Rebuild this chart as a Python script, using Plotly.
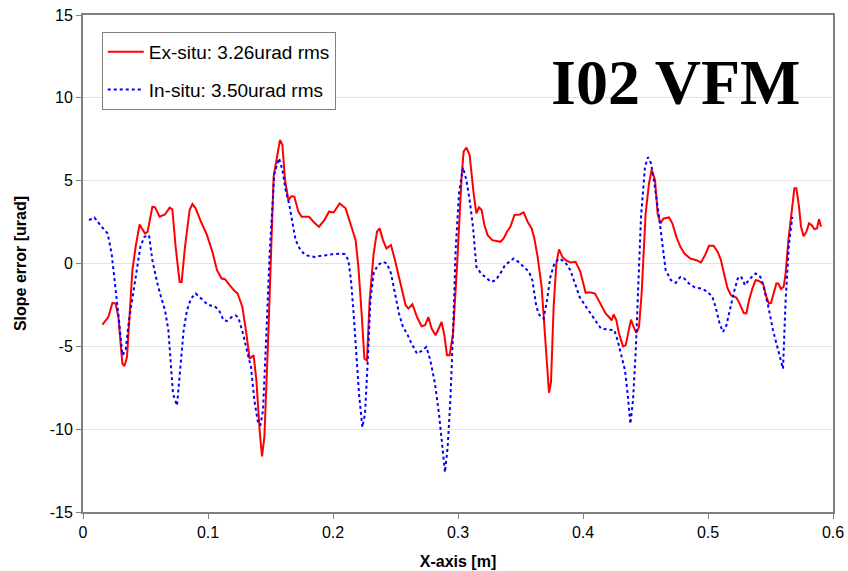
import plotly.graph_objects as go

# Ex-situ slope error (red solid)
ex_x = [0.0155, 0.0203, 0.0235, 0.0261, 0.0283, 0.0315, 0.0331, 0.0352, 0.0395, 0.0421,
        0.0453, 0.0496, 0.0517, 0.0555, 0.0576, 0.0613, 0.0656, 0.0693, 0.0715, 0.0741,
        0.0773, 0.0789, 0.0816, 0.0853, 0.0875, 0.0901, 0.0944, 0.0992, 0.1035, 0.1072,
        0.1109, 0.1136, 0.1173, 0.1211, 0.1237, 0.1275, 0.1307, 0.1333, 0.1365, 0.1387,
        0.1413, 0.1432, 0.1451, 0.1483, 0.1525, 0.1555, 0.1576, 0.1595, 0.1616, 0.1643,
        0.1669, 0.1691, 0.1723, 0.1749, 0.1808, 0.1851, 0.1888, 0.1931, 0.1968, 0.2005,
        0.2053, 0.2101, 0.2133, 0.2160, 0.2181, 0.2203, 0.2229, 0.2251, 0.2272, 0.2293,
        0.2325, 0.2352, 0.2373, 0.2400, 0.2427, 0.2464, 0.2496, 0.2539, 0.2581, 0.2603,
        0.2635, 0.2672, 0.2709, 0.2736, 0.2763, 0.2789, 0.2821, 0.2869, 0.2891, 0.2912,
        0.2933, 0.2960, 0.2992, 0.3029, 0.3045, 0.3067, 0.3093, 0.3125, 0.3147, 0.3168,
        0.3189, 0.3211, 0.3237, 0.3275, 0.3339, 0.3365, 0.3392, 0.3419, 0.3451, 0.3493,
        0.3525, 0.3557, 0.3589, 0.3611, 0.3637, 0.3669, 0.3696, 0.3712, 0.3728, 0.3744,
        0.3765, 0.3787, 0.3808, 0.3835, 0.3861, 0.3899, 0.3941, 0.3979, 0.4021, 0.4053,
        0.4096, 0.4117, 0.4149, 0.4181, 0.4208, 0.4229, 0.4245, 0.4267, 0.4288, 0.4320,
        0.4341, 0.4363, 0.4384, 0.4405, 0.4427, 0.4448, 0.4469, 0.4501, 0.4528, 0.4549,
        0.4576, 0.4597, 0.4619, 0.4645, 0.4688, 0.4715, 0.4747, 0.4779, 0.4811, 0.4859,
        0.4907, 0.4944, 0.4976, 0.5008, 0.5045, 0.5077, 0.5104, 0.5131, 0.5157, 0.5184,
        0.5227, 0.5253, 0.5285, 0.5307, 0.5328, 0.5355, 0.5381, 0.5408, 0.5440, 0.5467,
        0.5488, 0.5504, 0.5525, 0.5547, 0.5563, 0.5584, 0.5605, 0.5621, 0.5643, 0.5669,
        0.5691, 0.5707, 0.5728, 0.5744, 0.5765, 0.5787, 0.5808, 0.5829, 0.5851, 0.5872,
        0.5888, 0.5904]
ex_y = [-3.69, -3.23, -2.38, -2.42, -3.23, -6.05, -6.19, -5.65, -0.40, 1.01,
        2.36, 1.81, 1.92, 3.43, 3.39, 2.82, 2.96, 3.37, 3.27, 1.01,
        -1.11, -1.11, 1.01, 3.23, 3.59, 3.33, 2.52, 1.71, 0.71, -0.40,
        -0.91, -0.95, -1.31, -1.65, -1.81, -2.62, -4.23, -5.75, -5.54, -7.06,
        -10.08, -11.65, -10.48, -4.23, 5.24, 6.65, 7.46, 7.16, 5.04, 3.83,
        4.07, 4.03, 3.13, 2.82, 2.82, 2.46, 2.22, 2.62, 3.13, 3.08,
        3.63, 3.33, 2.62, 1.92, 1.41, -0.20, -3.02, -5.75, -5.85, -2.22,
        0.60, 1.92, 2.12, 1.41, 0.91, 1.11, 0.20, -1.21, -2.52, -2.72,
        -2.46, -3.23, -3.79, -3.73, -3.23, -3.93, -4.33, -3.53, -4.33, -5.54,
        -5.54, -4.23, -0.20, 5.24, 6.75, 7.00, 6.55, 4.23, 3.02, 3.39,
        3.23, 2.32, 1.71, 1.41, 1.31, 1.51, 1.92, 2.22, 2.92, 2.96,
        3.08, 2.52, 2.12, 1.51, 0.40, -1.41, -4.03, -6.05, -7.80, -7.16,
        -2.62, 0.00, 0.85, 0.40, 0.20, 0.06, 0.10, -0.50, -1.77, -1.73,
        -1.81, -2.12, -2.52, -3.02, -3.23, -3.43, -3.08, -3.43, -4.23, -5.00,
        -4.94, -4.23, -3.39, -3.83, -4.19, -3.83, -1.81, 3.02, 4.84, 5.65,
        5.04, 3.02, 2.42, 2.72, 2.78, 2.42, 1.61, 1.01, 0.60, 0.30,
        0.20, 0.06, 0.50, 1.07, 1.07, 0.71, 0.20, -0.71, -1.51, -1.92,
        -2.06, -2.42, -2.98, -3.02, -2.22, -1.51, -1.01, -1.05, -1.21, -2.02,
        -2.42, -2.38, -1.81, -1.21, -1.21, -1.55, -1.41, -0.60, 1.41, 3.23,
        4.54, 4.54, 3.43, 2.22, 1.65, 1.92, 2.42, 2.32, 2.08, 2.12,
        2.68, 2.22]

# In-situ slope error (blue dotted)
in_x = [0.0048, 0.0091, 0.0149, 0.0197, 0.0229, 0.0261, 0.0288, 0.0315, 0.0341, 0.0368,
        0.0400, 0.0427, 0.0459, 0.0491, 0.0528, 0.0555, 0.0592, 0.0624, 0.0656, 0.0683,
        0.0704, 0.0720, 0.0752, 0.0779, 0.0805, 0.0832, 0.0864, 0.0901, 0.0949, 0.1003,
        0.1051, 0.1088, 0.1125, 0.1152, 0.1189, 0.1221, 0.1243, 0.1280, 0.1317, 0.1344,
        0.1371, 0.1397, 0.1419, 0.1440, 0.1467, 0.1493, 0.1531, 0.1568, 0.1595, 0.1621,
        0.1648, 0.1675, 0.1701, 0.1739, 0.1781, 0.1851, 0.1931, 0.1995, 0.2064, 0.2096,
        0.2123, 0.2144, 0.2165, 0.2187, 0.2208, 0.2235, 0.2256, 0.2277, 0.2299, 0.2325,
        0.2357, 0.2400, 0.2432, 0.2464, 0.2496, 0.2528, 0.2560, 0.2592, 0.2629, 0.2672,
        0.2709, 0.2747, 0.2779, 0.2816, 0.2848, 0.2875, 0.2896, 0.2917, 0.2939, 0.2960,
        0.2981, 0.3008, 0.3040, 0.3067, 0.3093, 0.3120, 0.3147, 0.3184, 0.3221, 0.3264,
        0.3301, 0.3339, 0.3376, 0.3413, 0.3445, 0.3483, 0.3525, 0.3568, 0.3595, 0.3627,
        0.3653, 0.3685, 0.3712, 0.3739, 0.3771, 0.3808, 0.3856, 0.3899, 0.3936, 0.3973,
        0.4016, 0.4064, 0.4107, 0.4144, 0.4197, 0.4251, 0.4277, 0.4304, 0.4336, 0.4357,
        0.4379, 0.4400, 0.4421, 0.4443, 0.4464, 0.4496, 0.4520, 0.4544, 0.4571, 0.4608,
        0.4635, 0.4661, 0.4704, 0.4741, 0.4779, 0.4811, 0.4848, 0.4896, 0.4949, 0.4997,
        0.5035, 0.5061, 0.5093, 0.5120, 0.5147, 0.5173, 0.5205, 0.5237, 0.5264, 0.5296,
        0.5328, 0.5381, 0.5419, 0.5445, 0.5483, 0.5520, 0.5557, 0.5579, 0.5600, 0.5621,
        0.5648, 0.5675]
in_y = [2.62, 2.78, 2.22, 1.81, 0.60, -1.41, -3.43, -5.54, -5.24, -3.43,
        -1.81, -0.60, 1.01, 1.61, 1.71, 0.20, -1.11, -2.02, -2.82, -4.03,
        -6.05, -7.86, -8.57, -6.05, -4.03, -2.82, -2.12, -1.81, -2.12, -2.52,
        -2.58, -2.82, -3.43, -3.47, -3.23, -3.13, -3.27, -4.23, -5.44, -6.25,
        -8.27, -9.48, -9.78, -8.87, -4.23, 0.60, 5.44, 6.35, 5.65, 4.44,
        3.63, 2.52, 1.41, 0.81, 0.50, 0.40, 0.50, 0.56, 0.60, 0.56,
        0.20, -1.01, -3.02, -5.44, -7.86, -9.88, -9.07, -6.05, -2.22, -0.60,
        -0.10, 0.10, 0.00, -0.60, -1.81, -3.02, -3.83, -4.23, -4.84, -5.44,
        -5.28, -5.04, -5.85, -7.26, -9.07, -10.89, -12.60, -11.09, -8.27, -4.23,
        0.81, 4.23, 5.80, 5.04, 3.83, 2.22, -0.20, -0.60, -0.81, -1.11,
        -1.01, -0.60, -0.10, 0.10, 0.30, 0.10, -0.20, -0.50, -1.01, -2.62,
        -3.13, -3.33, -2.22, -0.81, 0.00, 0.30, 0.10, -0.40, -1.21, -2.02,
        -2.52, -3.02, -3.53, -3.93, -3.99, -4.03, -4.64, -5.44, -6.45, -7.86,
        -9.68, -8.27, -5.44, -1.21, 2.82, 5.85, 6.41, 6.05, 4.84, 2.82,
        1.01, -0.40, -1.01, -1.17, -0.81, -0.91, -1.21, -1.45, -1.51, -1.71,
        -2.02, -2.62, -3.63, -4.13, -3.73, -2.82, -1.81, -0.91, -0.77, -1.31,
        -0.97, -0.60, -0.81, -1.41, -2.62, -4.03, -5.04, -5.65, -6.35, -2.22,
        1.21, 2.82]

x_ticks = [0, 0.1, 0.2, 0.3, 0.4, 0.5, 0.6]
x_labels = ["0", "0.1", "0.2", "0.3", "0.4", "0.5", "0.6"]
y_ticks = [-15, -10, -5, 0, 5, 10, 15]
y_labels = ["-15", "-10", "-5", "0", "5", "10", "15"]

fig = go.Figure()
fig.add_trace(go.Scatter(x=ex_x, y=ex_y, mode="lines", name="Ex-situ: 3.26urad rms",
                         legendgroup="a", line=dict(color="#ff0000", width=2)))
fig.add_trace(go.Scatter(x=in_x, y=in_y, mode="lines", name="In-situ: 3.50urad rms",
                         legendgroup="b", line=dict(color="#0000ff", width=2, dash="dot")))

fig.add_annotation(text="<b>I02 VFM</b>", x=0.958, y=0.865, xref="paper", yref="paper",
                   xanchor="right", yanchor="middle", showarrow=False,
                   font=dict(family="Liberation Serif", size=64, color="black"))

fig.update_layout(
    width=848, height=571,
    margin=dict(l=83, r=15, t=15, b=59),
    paper_bgcolor="white", plot_bgcolor="white",
    font=dict(family="Liberation Sans", size=16, color="black"),
    legend=dict(x=0.025, y=0.966, xanchor="left", yanchor="top",
                bordercolor="#808080", borderwidth=1, bgcolor="white",
                traceorder="grouped", tracegroupgap=10, itemwidth=36,
                font=dict(size=19)),
    showlegend=True,
)
fig.update_xaxes(range=[0, 0.6], tickvals=x_ticks, ticktext=x_labels, automargin=False,
                 ticklabeloverflow="allow",
                 showgrid=False, zeroline=False, showline=True, mirror=True,
                 linecolor="#808080", linewidth=2, ticks="outside", ticklen=5,
                 tickcolor="#808080",
                 title=dict(text="<b>X-axis [m]</b>", font=dict(size=16), standoff=16))
fig.update_yaxes(range=[-15, 15], tickvals=y_ticks, ticktext=y_labels, automargin=False,
                 ticklabeloverflow="allow",
                 showgrid=True, gridcolor="#e3e3e3",
                 gridwidth=1, zeroline=False, showline=True, mirror=True,
                 linecolor="#808080", linewidth=2, ticks="outside", ticklen=5,
                 tickcolor="#808080",
                 title=dict(text="<b>Slope error [urad]</b>", font=dict(size=16), standoff=19))

# drop the default 8px body margin so the figure fills the window exactly
fig.write_html("out.html", config={"displayModeBar": False},
               post_script="document.body.style.margin='0';")
